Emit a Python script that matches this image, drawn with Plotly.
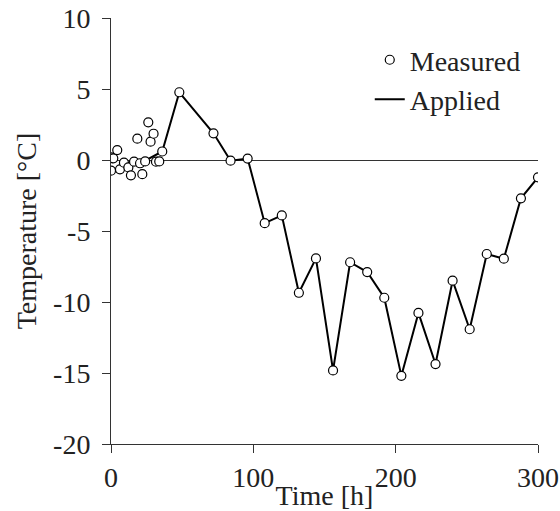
import plotly.graph_objects as go

# Measured temperatures (time in hours, temperature in °C)
measured_t = [0, 1.6, 4.4, 0, 6.3, 9.1, 12.2, 14, 16.2, 18.5, 20.4, 22, 24,
              26.2, 27.8, 29.9, 31.6, 33.9, 36, 48, 72, 84, 96, 108, 120,
              132, 144, 156, 168, 180, 192, 204, 216, 228, 240, 252, 264,
              276, 288, 300]
measured_temp = [0.19, 0.12, 0.7, -0.75, -0.66, -0.19, -0.52, -1.08, -0.12,
                 1.5, -0.23, -1.0, -0.1, 2.65, 1.29, 1.85, -0.12, -0.1, 0.6,
                 4.77, 1.88, -0.05, 0.1, -4.45, -3.9, -9.35, -6.93, -14.82,
                 -7.2, -7.89, -9.7, -15.2, -10.77, -14.37, -8.5, -11.92,
                 -6.62, -6.95, -2.7, -1.22]

# Applied temperature profile
applied_t = [24, 36, 48, 72, 84, 96, 108, 120, 132, 144, 156, 168, 180, 192,
             204, 216, 228, 240, 252, 264, 276, 288, 300]
applied_temp = [-0.05, 0.6, 4.77, 1.88, -0.05, 0.1, -4.45, -3.9, -9.35, -6.93,
                -14.82, -7.2, -7.89, -9.7, -15.2, -10.77, -14.37, -8.5,
                -11.92, -6.62, -6.95, -2.7, -1.22]

x_ticks = [0, 100, 200, 300]
y_ticks = [10, 5, 0, -5, -10, -15, -20]
y_tick_text = ["10", "5", "0", "-5", "-10", "-15", "-20"]

FONT = "Times New Roman, Liberation Serif, serif"
FS = 28
txt = dict(family=FONT, size=FS, color="#222")

fig = go.Figure()
fig.add_trace(go.Scatter(
    x=applied_t, y=applied_temp, mode="lines", name="Applied",
    line=dict(color="black", width=2),
))
fig.add_trace(go.Scatter(
    x=measured_t, y=measured_temp, mode="markers", name="Measured",
    marker=dict(symbol="circle", size=9, color="white",
                line=dict(color="black", width=1.2)),
))

fig.update_layout(
    width=560, height=511,
    margin=dict(l=111, r=22, t=18, b=67),
    paper_bgcolor="white", plot_bgcolor="white",
    font=txt,
    showlegend=True,
    legend=dict(x=0.606, y=0.96, xanchor="left", yanchor="top",
                traceorder="reversed", bgcolor="rgba(0,0,0,0)",
                font=txt, itemwidth=30, tracegroupgap=4),
    xaxis=dict(
        range=[0, 300], tickvals=x_ticks, showgrid=False, zeroline=False,
        showline=True, linecolor="#333", linewidth=1,
        ticks="outside", ticklen=8, tickcolor="#333", tickfont=txt,
        automargin=False,
        title=dict(text="Time [h]", standoff=0, font=txt),
    ),
    yaxis=dict(
        range=[-20, 10], tickvals=y_ticks, ticktext=y_tick_text,
        showgrid=False, zeroline=True, zerolinecolor="#333", zerolinewidth=1,
        showline=True, linecolor="#333", linewidth=1,
        ticks="outside", ticklen=8, tickcolor="#333", tickfont=txt,
        ticklabelstandoff=6, automargin=False,
        title=dict(text="Temperature [°C]", standoff=8, font=txt),
    ),
)

fig.write_html("out.html")
